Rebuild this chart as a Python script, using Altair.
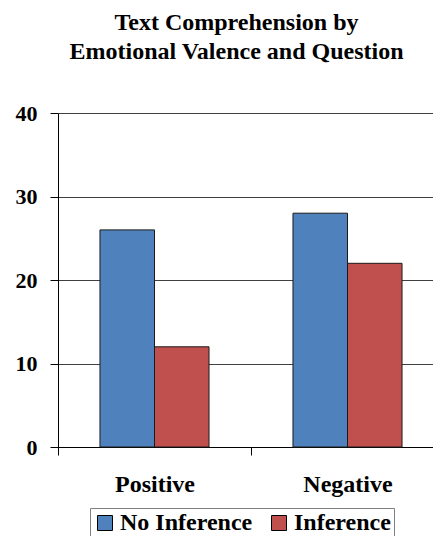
import altair as alt
import pandas as pd

categories = ["Positive", "Negative"]
series = ["No Inference", "Inference"]
valence = ["Positive", "Positive", "Negative", "Negative"]
question = ["No Inference", "Inference", "No Inference", "Inference"]
score = [26, 12, 28, 22]
colors = ["#4F81BD", "#C0504D"]
y_ticks = [0, 10, 20, 30, 40]

df = pd.DataFrame({"Valence": valence, "Question": question, "Score": score})

FONT = "Liberation Serif, Times New Roman, serif"

chart = alt.Chart(df).mark_bar(stroke="#1a1a1a", strokeWidth=1).encode(
    x=alt.X(
        "Valence:N",
        sort=categories,
        scale=alt.Scale(range=[0, 386], paddingInner=0, paddingOuter=0),
        axis=alt.Axis(
            title=None, labelAngle=0, tickBand="extent", grid=False,
            domainColor="black", tickColor="black", tickSize=8,
            labelFont=FONT, labelFontSize=24, labelFontWeight="bold",
            labelColor="black", labelPadding=17,
        ),
    ),
    xOffset=alt.XOffset(
        "Question:N", sort=series,
        scale=alt.Scale(paddingInner=0, paddingOuter=0.77),
    ),
    y=alt.Y(
        "Score:Q",
        scale=alt.Scale(domain=[0, 40], nice=False),
        axis=alt.Axis(
            title=None, values=y_ticks, grid=True, gridColor="#404040",
            domainColor="black", tickColor="black", tickSize=8,
            labelFont=FONT, labelFontSize=22, labelFontWeight="bold",
            labelColor="black", labelPadding=13,
        ),
    ),
    color=alt.Color(
        "Question:N", sort=series,
        scale=alt.Scale(domain=series, range=colors),
        legend=alt.Legend(
            title=None, orient="none", direction="horizontal",
            legendX=32, legendY=395, padding=3,
            strokeColor="#808080", fillColor="white",
            symbolType="square", symbolSize=225,
            symbolStrokeColor="black", symbolStrokeWidth=1,
            symbolOpacity=1,
            labelFont=FONT, labelFontSize=24, labelFontWeight="bold",
            labelColor="black", labelOffset=3, columnPadding=14,
        ),
    ),
).properties(
    width=375,
    height=334,
    title=alt.TitleParams(
        text=["Text Comprehension by", "Emotional Valence and Question"],
        font=FONT, fontSize=24, fontWeight="bold", color="black",
        anchor="middle", dx=-9, offset=38, lineHeight=29,
    ),
    autosize=alt.AutoSizeParams(type="none"),
    padding={"left": 50, "top": 105, "right": 0, "bottom": 89},
).configure_view(stroke=None)

chart.save("out.html", embed_options={"renderer": "svg", "actions": False})
